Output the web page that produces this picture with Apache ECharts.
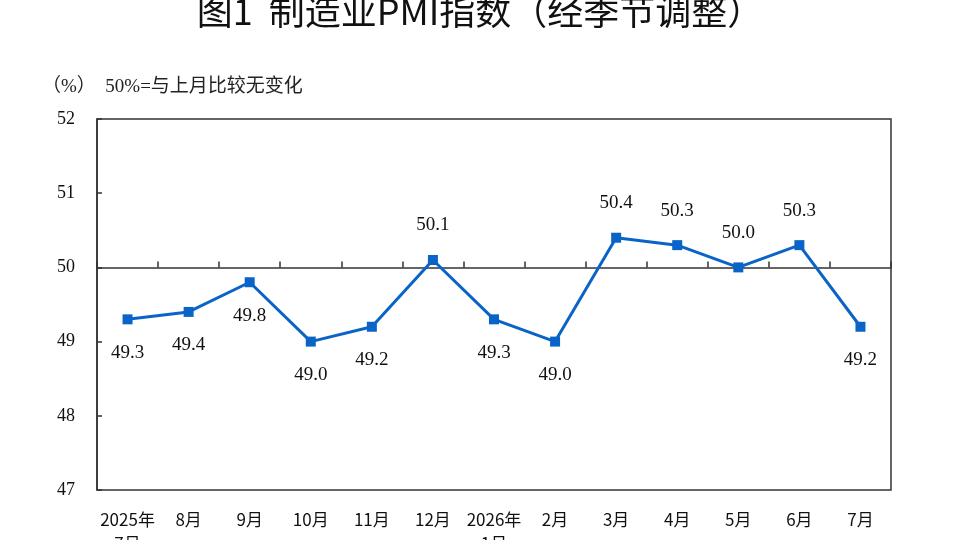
<!DOCTYPE html>
<html lang="zh">
  <head>
    <meta charset="utf-8" />
    <title>制造业PMI指数</title>
    <script src="https://cdn.jsdelivr.net/npm/echarts@6/dist/echarts.min.js"></script>
    <style>
      html, body { margin: 0; padding: 0; background: #fff; }
      #main { width: 960px; height: 540px; }
    </style>
  </head>
  <body>
    <div id="main"></div>
    <script>
      // 月份
      var months = [
        "2025年\n7月", "8月", "9月", "10月", "11月", "12月",
        "2026年\n1月", "2月", "3月", "4月", "5月", "6月", "7月"
      ];
      // 制造业PMI（经季节调整）
      var pmi = [49.3, 49.4, 49.8, 49.0, 49.2, 50.1, 49.3, 49.0, 50.4, 50.3, 50.0, 50.3, 49.2];
      var yMin = 47, yMax = 52, yStep = 1;
      var baseLine = 50;

      var serif = '"Liberation Serif", "Times New Roman", "Noto Sans CJK SC", serif';
      var hei = '"Noto Sans CJK SC", "DejaVu Sans", sans-serif';

      var gridTop = 119, gridBottom = 50;
      var gridH = 540 - gridTop - gridBottom;
      // 50 线相对底部的偏移
      var lineOffset = -gridH * (baseLine - yMin) / (yMax - yMin);

      var myChart = echarts.init(document.getElementById("main"), null, { renderer: "canvas" });

      var option = {
        backgroundColor: "#fff",
        animation: false,
        title: {
          text: "图1  制造业PMI指数（经季节调整）",
          left: "center",
          top: -12,
          textStyle: { fontFamily: hei, fontSize: 36, fontWeight: "normal", color: "#111" }
        },
        graphic: [
          {
            type: "text",
            left: 42,
            top: 78,
            style: {
              text: "（%）  50%=与上月比较无变化",
              font: '19px ' + serif,
              fill: "#222"
            }
          }
        ],
        grid: {
          left: 97,
          right: 69,
          top: gridTop,
          bottom: gridBottom,
          show: true,
          borderColor: "#333",
          borderWidth: 1.5,
          containLabel: false,
          outerBoundsMode: "none"
        },
        xAxis: [
          {
            type: "category",
            data: months,
            position: "bottom",
            axisLine: { show: false },
            axisTick: { show: false },
            axisLabel: {
              interval: 0,
              margin: 18,
              fontFamily: hei,
              fontSize: 17,
              lineHeight: 24,
              color: "#111",
              verticalAlign: "top"
            }
          },
          {
            type: "category",
            data: months,
            position: "bottom",
            offset: lineOffset,
            axisLine: { show: true, lineStyle: { color: "#333", width: 1.5 } },
            axisTick: { show: true, inside: true, length: 6, interval: 0, lineStyle: { color: "#333", width: 1.5 } },
            axisLabel: { show: false }
          }
        ],
        yAxis: {
          type: "value",
          min: yMin,
          max: yMax,
          interval: yStep,
          axisLine: { show: true, lineStyle: { color: "#333", width: 1.5 } },
          axisTick: { show: true, inside: true, length: 5, lineStyle: { color: "#333", width: 1.5 } },
          splitLine: { show: false },
          axisLabel: { margin: 22, fontFamily: serif, fontSize: 18, color: "#111" }
        },
        series: [
          {
            type: "line",
            data: pmi.map(function (v) {
              var up = v >= baseLine;
              return {
                value: v,
                label: { position: up ? "top" : "bottom", distance: up ? 20 : 19 }
              };
            }),
            symbol: "rect",
            symbolSize: 10,
            lineStyle: { color: "#0a64c8", width: 3 },
            itemStyle: { color: "#0a64c8" },
            label: {
              show: true,
              formatter: function (p) { return p.value.toFixed(1); },
              fontFamily: serif,
              fontSize: 19,
              color: "#111"
            },
            z: 5
          }
        ]
      };

      myChart.setOption(option);
    </script>
  </body>
</html>
